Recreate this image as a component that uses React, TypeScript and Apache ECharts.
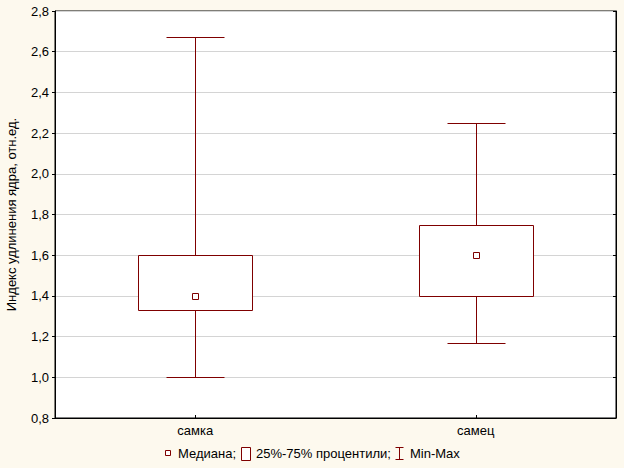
import React, { useEffect, useRef } from "react";
import * as echarts from "echarts";

const categories = ["самка", "самец"];
const minValues = [1.0, 1.17];
const q1Values = [1.33, 1.4];
const medianValues = [1.4, 1.6];
const q3Values = [1.6, 1.75];
const maxValues = [2.67, 2.25];
const yTicks = { min: 0.8, max: 2.8, interval: 0.2 };
const yAxisTitle = "Индекс удлинения ядра, отн.ед.";
const legendLabels = ["Медиана;", "25%-75% процентили;", "Min-Max"];

const RED = "#7f0000";
const FONT = "Liberation Sans, Arial, sans-serif";

export default function App() {
  const ref = useRef<HTMLDivElement>(null);
  useEffect(() => {
    if (!ref.current) return;
    const chart = echarts.init(ref.current, null, { renderer: "svg" });
    const data = categories.map((_, i) => [
      i,
      minValues[i],
      q1Values[i],
      medianValues[i],
      q3Values[i],
      maxValues[i],
    ]);
    const fmt = (v: number) => v.toFixed(1).replace(".", ",");
    const s = (v: number) => Math.round(v) + 0.5;
    chart.setOption({
      animation: false,
      backgroundColor: "#fdf9ee",
      textStyle: { fontFamily: FONT },
      grid: {
        left: 55,
        top: 11,
        right: 8,
        bottom: 50,
        containLabel: false,
        outerBoundsMode: "none",
        show: true,
        backgroundColor: "#ffffff",
        borderColor: "#000000",
        borderWidth: 1,
      },
      xAxis: {
        type: "category",
        data: categories,
        boundaryGap: true,
        axisLine: { show: true, lineStyle: { color: "#000", width: 1 } },
        axisTick: { show: true, inside: true, length: 3, alignWithLabel: true, lineStyle: { color: "#000" } },
        axisLabel: { color: "#000", fontSize: 13, fontFamily: FONT, margin: 6 },
        splitLine: { show: false },
      },
      yAxis: [
        {
          type: "value",
          min: yTicks.min,
          max: yTicks.max,
          interval: yTicks.interval,
          name: yAxisTitle,
          nameLocation: "middle",
          nameGap: 37,
          nameTextStyle: { color: "#000", fontSize: 13, fontFamily: FONT },
          axisLine: { show: true, lineStyle: { color: "#000", width: 1 } },
          axisTick: { show: true, length: 3, lineStyle: { color: "#000" } },
          axisLabel: { color: "#000", fontSize: 13, fontFamily: FONT, margin: 6, formatter: fmt },
          splitLine: { show: true, lineStyle: { color: "#d4d4d4", width: 1 } },
        },
        {
          type: "value",
          position: "right",
          min: yTicks.min,
          max: yTicks.max,
          interval: yTicks.interval,
          axisLine: { show: true, lineStyle: { color: "#000", width: 1 } },
          axisTick: { show: true, inside: true, length: 3, lineStyle: { color: "#000" } },
          axisLabel: { show: false },
          splitLine: { show: false },
        },
      ],
      series: [
        {
          type: "custom",
          data,
          encode: { x: 0, y: [1, 2, 3, 4, 5] },
          renderItem: (params: any, api: any) => {
            const x = api.value(0);
            const pMin = api.coord([x, api.value(1)]);
            const pQ1 = api.coord([x, api.value(2)]);
            const pMed = api.coord([x, api.value(3)]);
            const pQ3 = api.coord([x, api.value(4)]);
            const pMax = api.coord([x, api.value(5)]);
            const band = api.size([1, 0])[0];
            const hb = Math.round((band * 0.405) / 2);
            const hc = Math.round(hb / 2);
            const cx = s(pMed[0]);
            const yMin = s(pMin[1]);
            const yQ1 = s(pQ1[1]);
            const yMed = s(pMed[1]);
            const yQ3 = s(pQ3[1]);
            const yMax = s(pMax[1]);
            const ls = { stroke: RED, lineWidth: 1 };
            return {
              type: "group",
              children: [
                { type: "line", shape: { x1: cx, y1: yMax, x2: cx, y2: yQ3 }, style: ls },
                { type: "line", shape: { x1: cx, y1: yQ1, x2: cx, y2: yMin }, style: ls },
                { type: "line", shape: { x1: cx - hc, y1: yMax, x2: cx + hc, y2: yMax }, style: ls },
                { type: "line", shape: { x1: cx - hc, y1: yMin, x2: cx + hc, y2: yMin }, style: ls },
                {
                  type: "rect",
                  shape: { x: cx - hb, y: yQ3, width: 2 * hb, height: yQ1 - yQ3 },
                  style: { fill: "#ffffff", stroke: RED, lineWidth: 1 },
                },
                {
                  type: "rect",
                  shape: { x: cx - 3, y: yMed - 3, width: 6, height: 6 },
                  style: { fill: "#ffffff", stroke: RED, lineWidth: 1 },
                },
              ],
            };
          },
        },
      ],
      graphic: [
        { type: "rect", shape: { x: 165.5, y: 450.5, width: 5, height: 5 }, style: { fill: "#fff", stroke: RED, lineWidth: 1 } },
        { type: "text", x: 178, y: 453, style: { text: legendLabels[0], fill: "#000", font: `13px ${FONT}`, verticalAlign: "middle" } },
        { type: "rect", shape: { x: 241.5, y: 447.5, width: 9, height: 13 }, style: { fill: "#fff", stroke: RED, lineWidth: 1 } },
        { type: "text", x: 256, y: 453, style: { text: legendLabels[1], fill: "#000", font: `13px ${FONT}`, verticalAlign: "middle" } },
        { type: "line", shape: { x1: 399.5, y1: 447, x2: 399.5, y2: 460 }, style: { stroke: RED, lineWidth: 1 } },
        { type: "line", shape: { x1: 395.5, y1: 447.5, x2: 403.5, y2: 447.5 }, style: { stroke: RED, lineWidth: 1 } },
        { type: "line", shape: { x1: 395.5, y1: 459.5, x2: 403.5, y2: 459.5 }, style: { stroke: RED, lineWidth: 1 } },
        { type: "text", x: 410, y: 453, style: { text: legendLabels[2], fill: "#000", font: `13px ${FONT}`, verticalAlign: "middle" } },
      ],
    });
    return () => chart.dispose();
  }, []);
  return <div ref={ref} style={{ width: 624, height: 468, position: "absolute", left: 0, top: 0 }} />;
}
